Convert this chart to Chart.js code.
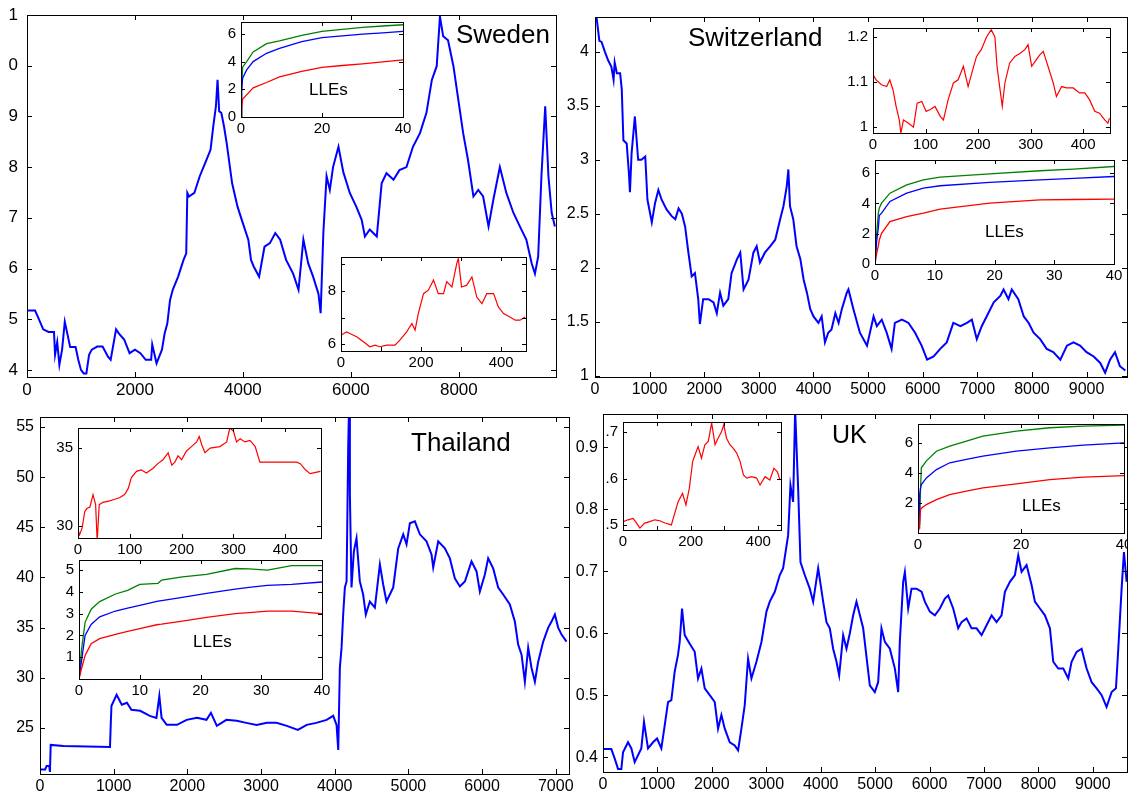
<!DOCTYPE html>
<html>
<head>
<meta charset="utf-8">
<title>Exchange rates and LLEs</title>
<script src="https://cdn.jsdelivr.net/npm/chart.js@4.4.1/dist/chart.umd.min.js"></script>
<style>
  html, body { margin: 0; padding: 0; background: #fff; width: 1128px; height: 794px; overflow: hidden; }
  canvas { position: absolute; }
  .txt { position: absolute; font-family: 'Liberation Sans', Arial, sans-serif; line-height: 1; color: #000; white-space: nowrap; z-index: 5; }
</style>
</head>
<body>
<div class="txt" style="left:456px;top:21px;font-size:26px">Sweden</div>
<div class="txt" style="left:688px;top:24px;font-size:26px">Switzerland</div>
<div class="txt" style="left:411px;top:429px;font-size:26px">Thailand</div>
<div class="txt" style="left:832px;top:422px;font-size:25px">UK</div>
<div class="txt" style="left:309px;top:81px;font-size:17px">LLEs</div>
<div class="txt" style="left:985px;top:223px;font-size:17px">LLEs</div>
<div class="txt" style="left:193px;top:633px;font-size:17px">LLEs</div>
<div class="txt" style="left:1022px;top:497px;font-size:17px">LLEs</div>
<script>
// ---- Sweden ----
const sweDay = [
  0,150,200,300,400,500,520,560,600,650,
  700,750,800,900,950,1000,1050,1100,1150,1200,
  1300,1400,1500,1550,1650,1700,1800,1900,2000,2100,
  2200,2300,2320,2400,2500,2550,2600,2650,2700,2800,
  2900,2950,2970,3000,3100,3200,3300,3400,3450,3500,
  3530,3560,3600,3650,3700,3800,3900,4000,4100,4150,
  4200,4300,4400,4500,4600,4690,4800,4930,5030,5120,
  5210,5300,5400,5440,5490,5550,5610,5670,5770,5860,
  5980,6100,6200,6260,6350,6480,6570,6660,6790,6900,
  7030,7150,7280,7400,7500,7590,7650,7710,7800,7900,
  7990,8080,8170,8270,8360,8450,8550,8640,8760,8880,
  9010,9130,9250,9350,9410,9470,9530,9600,9660,9720,
  9780];
const sweRate = [
  5.17,5.17,5.05,4.80,4.75,4.75,4.30,4.55,4.10,4.40,
  4.95,4.70,4.45,4.45,4.20,4.00,3.93,3.93,4.30,4.40,
  4.46,4.46,4.26,4.20,4.80,4.72,4.60,4.33,4.40,4.33,
  4.20,4.20,4.50,4.13,4.40,4.72,4.92,5.38,5.58,5.84,
  6.17,6.30,7.49,7.42,7.49,7.82,8.08,8.34,8.80,9.20,
  9.72,9.10,9.07,8.80,8.47,7.68,7.22,6.89,6.57,6.17,
  6.04,5.84,6.43,6.50,6.70,6.57,6.17,5.90,5.58,6.57,
  6.10,5.84,5.50,5.12,6.70,7.82,7.55,8.00,8.40,7.90,
  7.49,7.22,6.96,6.63,6.77,6.63,7.68,7.88,7.75,7.94,
  8.00,8.40,8.67,9.07,9.72,9.99,10.97,10.58,10.50,9.99,
  9.33,8.67,8.14,7.42,7.55,7.42,6.83,7.36,8.00,7.49,
  7.10,6.83,6.57,6.10,5.90,6.24,7.82,9.20,7.82,7.10,
  6.83];
const sweRedDay = [
  0,14,22,39,56,72,85,97,114,135,
  147,164,177,185,193,206,218,231,243,256,
  264,277,289,293,301,314,327,339,352,364,
  381,393,406,422,435,447,460];
const sweRedRate = [
  6.34,6.46,6.40,6.28,6.09,5.90,5.96,5.90,5.96,5.96,
  6.15,6.46,6.78,6.53,7.15,7.90,8.03,8.41,7.90,7.90,
  8.35,8.15,9.03,9.22,8.15,8.22,8.53,7.77,7.52,7.90,
  7.90,7.40,7.15,7.02,6.90,6.90,7.02];
const sweLleT   = [0,0.15,0.4,1.4,3.0,6.3,9.5,15,20,25,30,35,40];
const sweLle1   = [0,2.2,3.6,4.0,4.7,5.3,5.5,5.9,6.18,6.33,6.47,6.57,6.66];
const sweLle2   = [0,1.8,2.8,3.4,4.0,4.6,4.95,5.45,5.73,5.86,5.98,6.08,6.18];
const sweLle3   = [0,0.6,1.3,1.6,2.1,2.49,2.9,3.3,3.59,3.72,3.84,3.98,4.13];

// ---- Switzerland ----
const chDay = [
  0,30,80,120,180,240,300,340,360,400,
  460,490,520,580,620,640,670,730,790,850,
  920,960,1010,1040,1100,1160,1220,1310,1400,1470,
  1530,1590,1650,1710,1770,1830,1890,1920,1980,2080,
  2170,2230,2290,2350,2440,2500,2600,2660,2720,2810,
  2900,2960,3020,3110,3210,3300,3390,3450,3510,3540,
  3570,3630,3690,3760,3820,3880,3940,4000,4090,4150,
  4210,4270,4330,4400,4460,4520,4610,4640,4730,4850,
  4980,5100,5160,5250,5340,5430,5490,5620,5740,5860,
  5980,6080,6200,6320,6440,6560,6690,6810,6900,6990,
  7080,7170,7300,7420,7480,7570,7630,7750,7850,7940,
  8030,8150,8270,8390,8520,8640,8760,8880,9000,9130,
  9250,9340,9430,9520,9610,9710];
const chRate = [
  4.32,4.31,4.10,4.09,4.00,3.92,3.86,3.74,3.90,3.80,
  3.80,3.65,3.18,3.15,2.88,2.70,3.06,3.40,3.00,3.00,
  3.03,2.63,2.50,2.42,2.60,2.72,2.63,2.54,2.48,2.45,
  2.55,2.50,2.38,2.14,1.92,1.95,1.71,1.48,1.71,1.71,
  1.68,1.58,1.77,1.65,1.71,1.95,2.08,2.14,1.80,1.89,
  2.14,2.20,2.05,2.14,2.20,2.26,2.45,2.57,2.75,2.91,
  2.57,2.45,2.20,2.08,1.89,1.77,1.62,1.55,1.49,1.55,
  1.31,1.40,1.43,1.58,1.49,1.62,1.77,1.80,1.62,1.40,
  1.28,1.55,1.46,1.52,1.40,1.25,1.49,1.52,1.49,1.40,
  1.28,1.15,1.18,1.25,1.31,1.49,1.46,1.49,1.52,1.34,
  1.46,1.55,1.68,1.74,1.80,1.71,1.80,1.71,1.55,1.49,
  1.40,1.34,1.25,1.22,1.15,1.28,1.31,1.28,1.22,1.18,
  1.12,1.03,1.15,1.22,1.09,1.05];
const chRedDay = [
  0,6,16,26,32,38,44,50,53,58,
  67,77,84,93,101,109,118,128,134,143,
  153,162,172,181,188,197,206,216,225,232,
  236,241,246,251,260,270,280,289,295,302,
  311,317,324,333,343,349,359,368,381,393,
  403,412,422,431,441,447,450];
const chRedRate = [
  1.116,1.105,1.094,1.090,1.105,1.083,1.046,1.016,0.987,1.016,
  1.009,1.000,1.053,1.057,1.035,1.039,1.046,1.024,1.016,1.061,
  1.098,1.105,1.135,1.090,1.120,1.157,1.172,1.200,1.216,1.200,
  1.135,1.090,1.046,1.098,1.142,1.157,1.164,1.172,1.183,1.135,
  1.150,1.160,1.168,1.135,1.098,1.068,1.090,1.087,1.087,1.076,
  1.076,1.061,1.035,1.031,1.016,1.009,1.020];
const chLleT = [0,0.28,0.56,0.72,1.1,2.5,5.3,8.1,10.9,19.2,27.6,33.2,40];
const chLle1 = [0,2.0,3.36,3.7,4.02,4.68,5.23,5.56,5.74,5.96,6.16,6.27,6.44];
const chLle2 = [0,1.5,2.4,3.2,3.36,4.13,4.68,5.01,5.17,5.39,5.56,5.65,5.78];
const chLle3 = [0,0.7,1.2,1.59,2.03,2.8,3.13,3.36,3.62,4.02,4.24,4.26,4.28];

// ---- Thailand ----
const thDay = [
  0,70,90,125,135,145,320,950,960,970,
  1040,1110,1180,1240,1360,1490,1580,1620,1650,1720,
  1860,1990,2130,2260,2320,2400,2530,2670,2800,2940,
  3080,3210,3350,3500,3620,3750,3890,3980,4025,4048,
  4070,4093,4115,4138,4161,4183,4197,4206,4228,4260,
  4296,4341,4386,4422,4477,4545,4613,4658,4703,4794,
  4862,4930,4975,5020,5088,5156,5246,5314,5337,5405,
  5495,5563,5631,5699,5767,5857,5925,5970,6038,6083,
  6151,6219,6287,6377,6445,6490,6536,6581,6626,6671,
  6717,6762,6830,6898,6943,6988,7033,7079,7146];
const thRate = [
  20.85,20.85,21.2,21.2,20.6,23.3,23.2,23.1,25.3,27.2,
  28.3,27.3,27.5,26.8,26.7,26.2,26.0,28.2,26.0,25.3,
  25.3,25.8,26.0,25.8,26.5,25.2,25.8,25.7,25.5,25.3,
  25.5,25.5,25.2,24.8,25.3,25.5,25.8,26.2,25.3,22.8,
  31.0,33.0,36.3,39.0,39.6,52.9,58.0,48.3,39.0,42.6,
  43.9,39.6,38.3,36.3,37.6,37.0,41.3,39.3,37.6,39.0,
  42.9,44.3,43.3,45.4,45.6,44.3,43.6,42.3,41.0,43.6,
  42.9,41.9,39.9,39.1,39.6,41.6,40.6,38.6,40.3,41.9,
  40.9,39.0,38.3,37.3,35.6,33.3,32.3,29.6,33.0,31.0,
  29.6,31.6,33.6,35.0,35.6,36.3,35.0,34.3,33.6];
const thRedDay = [
  0,3,8,13,17,23,29,34,37,41,
  48,61,71,80,90,97,103,113,122,132,
  145,154,164,174,181,187,193,200,209,219,
  229,234,239,245,255,274,287,293,300,306,
  313,322,332,342,351,364,377,397,422,429,
  439,448,461,468];
const thRedRate = [
  29.74,29.4,29.85,30.9,31.1,31.2,32.0,31.35,29.0,31.35,
  31.5,31.6,31.7,31.8,32.0,32.4,33.1,33.5,33.6,33.4,
  33.7,34.0,34.25,34.7,33.9,34.1,34.5,34.25,34.8,35.1,
  35.4,35.75,35.2,34.7,35.0,35.1,35.4,36.3,36.1,35.4,
  35.6,35.4,35.5,35.1,34.1,34.1,34.1,34.1,34.1,34.0,
  33.6,33.35,33.45,33.5];
const thLleT = [0,0.4,1,2,3.4,6,8,10,13,13.6,17,21,25.7,28,31,35,40];
const thLle1 = [0,1.3,2.6,3.2,3.55,3.9,4.07,4.34,4.39,4.54,4.69,4.8,5.07,5.05,5.0,5.2,5.2];
const thLle2 = [0,0.8,2.0,2.5,2.85,3.12,3.25,3.38,3.57,3.6,3.75,3.93,4.12,4.2,4.3,4.34,4.45];
const thLle3 = [0,0.46,1.08,1.62,1.85,2.05,2.18,2.31,2.5,2.52,2.66,2.83,3.0,3.05,3.11,3.11,3.0];

// ---- UK ----
const ukDay = [
  0,153,214,276,337,368,460,521,582,643,
  704,753,827,919,993,1072,1133,1195,1256,1317,
  1378,1409,1452,1501,1593,1685,1746,1808,1869,1961,
  2053,2114,2175,2237,2329,2420,2482,2543,2604,2665,
  2727,2819,2911,3003,3064,3156,3248,3309,3401,3444,
  3493,3530,3585,3628,3707,3799,3861,3953,4045,4106,
  4167,4228,4290,4339,4412,4473,4535,4596,4657,4780,
  4902,4994,5055,5116,5178,5270,5362,5423,5453,5515,
  5546,5607,5668,5760,5852,5913,6005,6097,6189,6281,
  6342,6434,6526,6587,6679,6771,6863,6955,7047,7139,
  7230,7322,7384,7476,7568,7629,7690,7782,7874,7935,
  8027,8119,8211,8272,8364,8456,8548,8609,8701,8793,
  8885,8977,9069,9161,9252,9344,9424,9467,9528,9571,
  9620];
const ukRate = [
  0.413,0.413,0.398,0.381,0.381,0.408,0.424,0.414,0.392,0.403,
  0.414,0.457,0.414,0.424,0.430,0.414,0.451,0.489,0.492,0.538,
  0.565,0.586,0.640,0.597,0.583,0.570,0.527,0.543,0.511,0.500,
  0.489,0.446,0.468,0.446,0.424,0.419,0.411,0.446,0.484,0.559,
  0.527,0.554,0.586,0.635,0.651,0.667,0.694,0.705,0.758,0.839,
  0.812,0.960,0.834,0.715,0.694,0.672,0.651,0.705,0.651,0.618,
  0.608,0.575,0.554,0.532,0.597,0.575,0.600,0.629,0.651,0.608,
  0.516,0.505,0.521,0.608,0.586,0.575,0.543,0.505,0.586,0.683,
  0.699,0.640,0.672,0.672,0.667,0.651,0.635,0.629,0.640,0.656,
  0.661,0.640,0.608,0.618,0.624,0.608,0.608,0.597,0.613,0.629,
  0.618,0.629,0.667,0.683,0.694,0.726,0.699,0.710,0.678,0.651,
  0.640,0.629,0.608,0.554,0.543,0.543,0.527,0.554,0.570,0.575,
  0.543,0.521,0.511,0.500,0.481,0.505,0.511,0.575,0.672,0.731,
  0.683];
const ukRedDay = [
  0,15,30,40,50,64,79,94,109,124,
  143,150,163,176,186,196,206,215,222,232,
  242,252,262,272,281,291,298,306,316,326,
  336,346,356,366,380,395,405,420,434,446,
  456,464];
const ukRedRate = [
  0.507,0.511,0.514,0.504,0.493,0.504,0.507,0.511,0.509,0.504,
  0.500,0.518,0.550,0.568,0.543,0.579,0.637,0.655,0.669,0.644,
  0.673,0.680,0.720,0.673,0.687,0.701,0.716,0.687,0.673,0.665,
  0.655,0.637,0.608,0.601,0.604,0.601,0.586,0.604,0.597,0.622,
  0.615,0.597];
const ukLleT = [0,0.2,0.33,0.5,0.65,1.63,3.58,6.16,9.4,12.6,19.1,25.6,32.1,40];
const ukLle1 = [0,0.6,1.45,3.0,4.34,4.8,5.44,5.78,6.11,6.44,6.78,7.0,7.11,7.18];
const ukLle2 = [0,0.8,2.55,3.0,3.22,3.66,4.22,4.67,4.89,5.11,5.44,5.66,5.84,6.0];
const ukLle3 = [0,0.33,0.9,1.55,1.65,1.89,2.22,2.55,2.78,3.0,3.27,3.55,3.71,3.82];

// ---- tick positions ----
const sweXTicks = [0,2000,4000,6000,8000];
const sweYTicks = [4,5,6,7,8,9,10,11];
const chXTicks = [0,1000,2000,3000,4000,5000,6000,7000,8000,9000];
const chYTicks = [1,1.5,2,2.5,3,3.5,4];
const thXTicks = [0,1000,2000,3000,4000,5000,6000,7000];
const thYTicks = [25,30,35,40,45,50,55];
const ukXTicks = [0,1000,2000,3000,4000,5000,6000,7000,8000,9000];
const ukYTicks = [0.4,0.5,0.6,0.7,0.8,0.9];
const redXTicks = [0,100,200,300,400];
const lleXTicks10 = [0,10,20,30,40];
const lleXTicks20 = [0,20,40];

const BLUE = '#0000ff', RED = '#ff0000', GREEN = '#008000';
const FONT = "'Liberation Sans', Arial, sans-serif";

function pts(xs, ys) {
  return xs.map((x, i) => ({x: x, y: ys[i]}));
}

// matlab style box with inward ticks on all four sides
const boxTicks = {
  id: 'boxTicks',
  beforeDraw(chart, args, o) {
    if (!o.fill) return;
    const a = chart.chartArea, ctx = chart.ctx;
    ctx.save();
    ctx.fillStyle = '#fff';
    ctx.fillRect(a.left, a.top, a.right - a.left, a.bottom - a.top);
    ctx.restore();
  },
  afterDraw(chart, args, o) {
    const ctx = chart.ctx, a = chart.chartArea;
    const xs = chart.scales.x, ys = chart.scales.y;
    const len = o.len;
    ctx.save();
    ctx.strokeStyle = '#000';
    ctx.lineWidth = 1;
    ctx.beginPath();
    xs.ticks.forEach(t => {
      const p = Math.round(xs.getPixelForValue(t.value)) + 0.5;
      ctx.moveTo(p, a.bottom); ctx.lineTo(p, a.bottom - len);
      ctx.moveTo(p, a.top); ctx.lineTo(p, a.top + len);
    });
    ys.ticks.forEach(t => {
      const p = Math.round(ys.getPixelForValue(t.value)) + 0.5;
      ctx.moveTo(a.left, p); ctx.lineTo(a.left + len, p);
      ctx.moveTo(a.right, p); ctx.lineTo(a.right - len, p);
    });
    ctx.stroke();
    ctx.strokeRect(Math.round(a.left) + 0.5, Math.round(a.top) + 0.5,
                   Math.round(a.right - a.left), Math.round(a.bottom - a.top));
    ctx.restore();
  }
};

function plot(c) {
  const [x0, y0, x1, y1] = c.box;
  const mL = 46, mT = 14, mR = 18, mB = 28;
  const cv = document.createElement('canvas');
  cv.width = x1 - x0 + mL + mR;
  cv.height = y1 - y0 + mT + mB;
  cv.style.left = (x0 - mL) + 'px';
  cv.style.top = (y0 - mT) + 'px';
  document.body.appendChild(cv);
  const font = {family: FONT, size: c.font};
  const axis = (a, horiz) => ({
    type: 'linear', min: a.min, max: a.max,
    grid: {display: false, drawTicks: false},
    border: {display: false},
    afterBuildTicks: s => { s.ticks = a.ticks.map(v => ({value: v})); },
    afterFit: horiz
      ? s => { s.height = mB; s.paddingLeft = 0; s.paddingRight = 0; }
      : s => { s.width = mL; s.paddingTop = 0; s.paddingBottom = 0; },
    ticks: {
      font: font, color: '#000', padding: horiz ? 3 : c.pad,
      autoSkip: false, maxRotation: 0, minRotation: 0,
      callback: v => (a.show && !a.show.includes(v)) ? '' : (a.fmt ? a.fmt(v) : String(v))
    }
  });
  return new Chart(cv, {
    type: 'line',
    data: {
      datasets: c.sets.map(s => ({
        data: pts(s.x, s.y), borderColor: s.color, borderWidth: s.w,
        pointRadius: 0, tension: 0, fill: false
      }))
    },
    options: {
      responsive: false, animation: false, events: [],
      layout: {padding: {left: 0, top: mT, right: mR, bottom: 0}},
      plugins: {
        legend: {display: false}, tooltip: {enabled: false},
        boxTicks: {fill: !!c.inset, len: c.inset ? 4 : 5}
      },
      scales: {x: axis(c.x, true), y: axis(c.y, false)}
    },
    plugins: [boxTicks]
  });
}

// main panels
plot({box: [27, 15, 556, 377], font: 17, pad: 9,
  x: {min: 0, max: 9800, ticks: sweXTicks},
  y: {min: 3.86, max: 11, ticks: sweYTicks, fmt: v => String(v % 10)},
  sets: [{x: sweDay, y: sweRate, color: BLUE, w: 2}]});
plot({box: [595, 17, 1127, 377], font: 16, pad: 6,
  x: {min: 0, max: 9740, ticks: chXTicks},
  y: {min: 0.99, max: 4.32, ticks: chYTicks},
  sets: [{x: chDay, y: chRate, color: BLUE, w: 2}]});
plot({box: [40, 417, 569, 774], font: 16, pad: 6,
  x: {min: 0, max: 7180, ticks: thXTicks},
  y: {min: 20.4, max: 56, ticks: thYTicks},
  sets: [{x: thDay, y: thRate, color: BLUE, w: 2}]});
plot({box: [603, 414, 1127, 772], font: 16, pad: 5,
  x: {min: 0, max: 9627, ticks: ukXTicks},
  y: {min: 0.376, max: 0.954, ticks: ukYTicks},
  sets: [{x: ukDay, y: ukRate, color: BLUE, w: 2}]});

// insets
const lleSets = (t, a, b, r) => [
  {x: t, y: r, color: RED, w: 1.3},
  {x: t, y: b, color: BLUE, w: 1.3},
  {x: t, y: a, color: GREEN, w: 1.3}
];
plot({box: [241, 22, 403, 117], inset: true, font: 15, pad: 5,
  x: {min: 0, max: 40, ticks: lleXTicks20},
  y: {min: 0, max: 6.86, ticks: [0,2,4,6]},
  sets: lleSets(sweLleT, sweLle1, sweLle2, sweLle3)});
plot({box: [341, 257, 526, 351], inset: true, font: 15, pad: 5,
  x: {min: 0, max: 462, ticks: redXTicks, show: [0,200,400]},
  y: {min: 5.74, max: 9.28, ticks: [6,7,8,9], show: [6,8]},
  sets: [{x: sweRedDay, y: sweRedRate, color: RED, w: 1.2}]});
plot({box: [873, 28, 1110, 133], inset: true, font: 15, pad: 5,
  x: {min: 0, max: 451, ticks: redXTicks},
  y: {min: 0.987, max: 1.22, ticks: [1,1.1,1.2]},
  sets: [{x: chRedDay, y: chRedRate, color: RED, w: 1.2}]});
plot({box: [875, 160, 1114, 264], inset: true, font: 15, pad: 5,
  x: {min: 0, max: 40, ticks: lleXTicks10},
  y: {min: 0, max: 6.87, ticks: [0,2,4,6]},
  sets: lleSets(chLleT, chLle1, chLle2, chLle3)});
plot({box: [78, 428, 321, 538], inset: true, font: 15, pad: 5,
  x: {min: 0, max: 469, ticks: redXTicks},
  y: {min: 29.2, max: 36.3, ticks: [30,35]},
  sets: [{x: thRedDay, y: thRedRate, color: RED, w: 1.2}]});
plot({box: [79, 560, 322, 679], inset: true, font: 15, pad: 5,
  x: {min: 0, max: 40, ticks: lleXTicks10},
  y: {min: 0, max: 5.46, ticks: [0,1,2,3,4,5], show: [1,2,3,4,5]},
  sets: lleSets(thLleT, thLle1, thLle2, thLle3)});
plot({box: [623, 422, 781, 530], inset: true, font: 15, pad: 5,
  x: {min: 0, max: 467, ticks: redXTicks, show: [0,200,400]},
  y: {min: 0.489, max: 0.722, ticks: [0.5,0.6,0.7], fmt: v => String(v).replace(/^0/, '')},
  sets: [{x: ukRedDay, y: ukRedRate, color: RED, w: 1.2}]});
plot({box: [918, 424, 1124, 533], inset: true, font: 15, pad: 5,
  x: {min: 0, max: 40, ticks: lleXTicks20},
  y: {min: 0, max: 7.25, ticks: [0,2,4,6], show: [2,4,6]},
  sets: lleSets(ukLleT, ukLle1, ukLle2, ukLle3)});
</script>
</body>
</html>
